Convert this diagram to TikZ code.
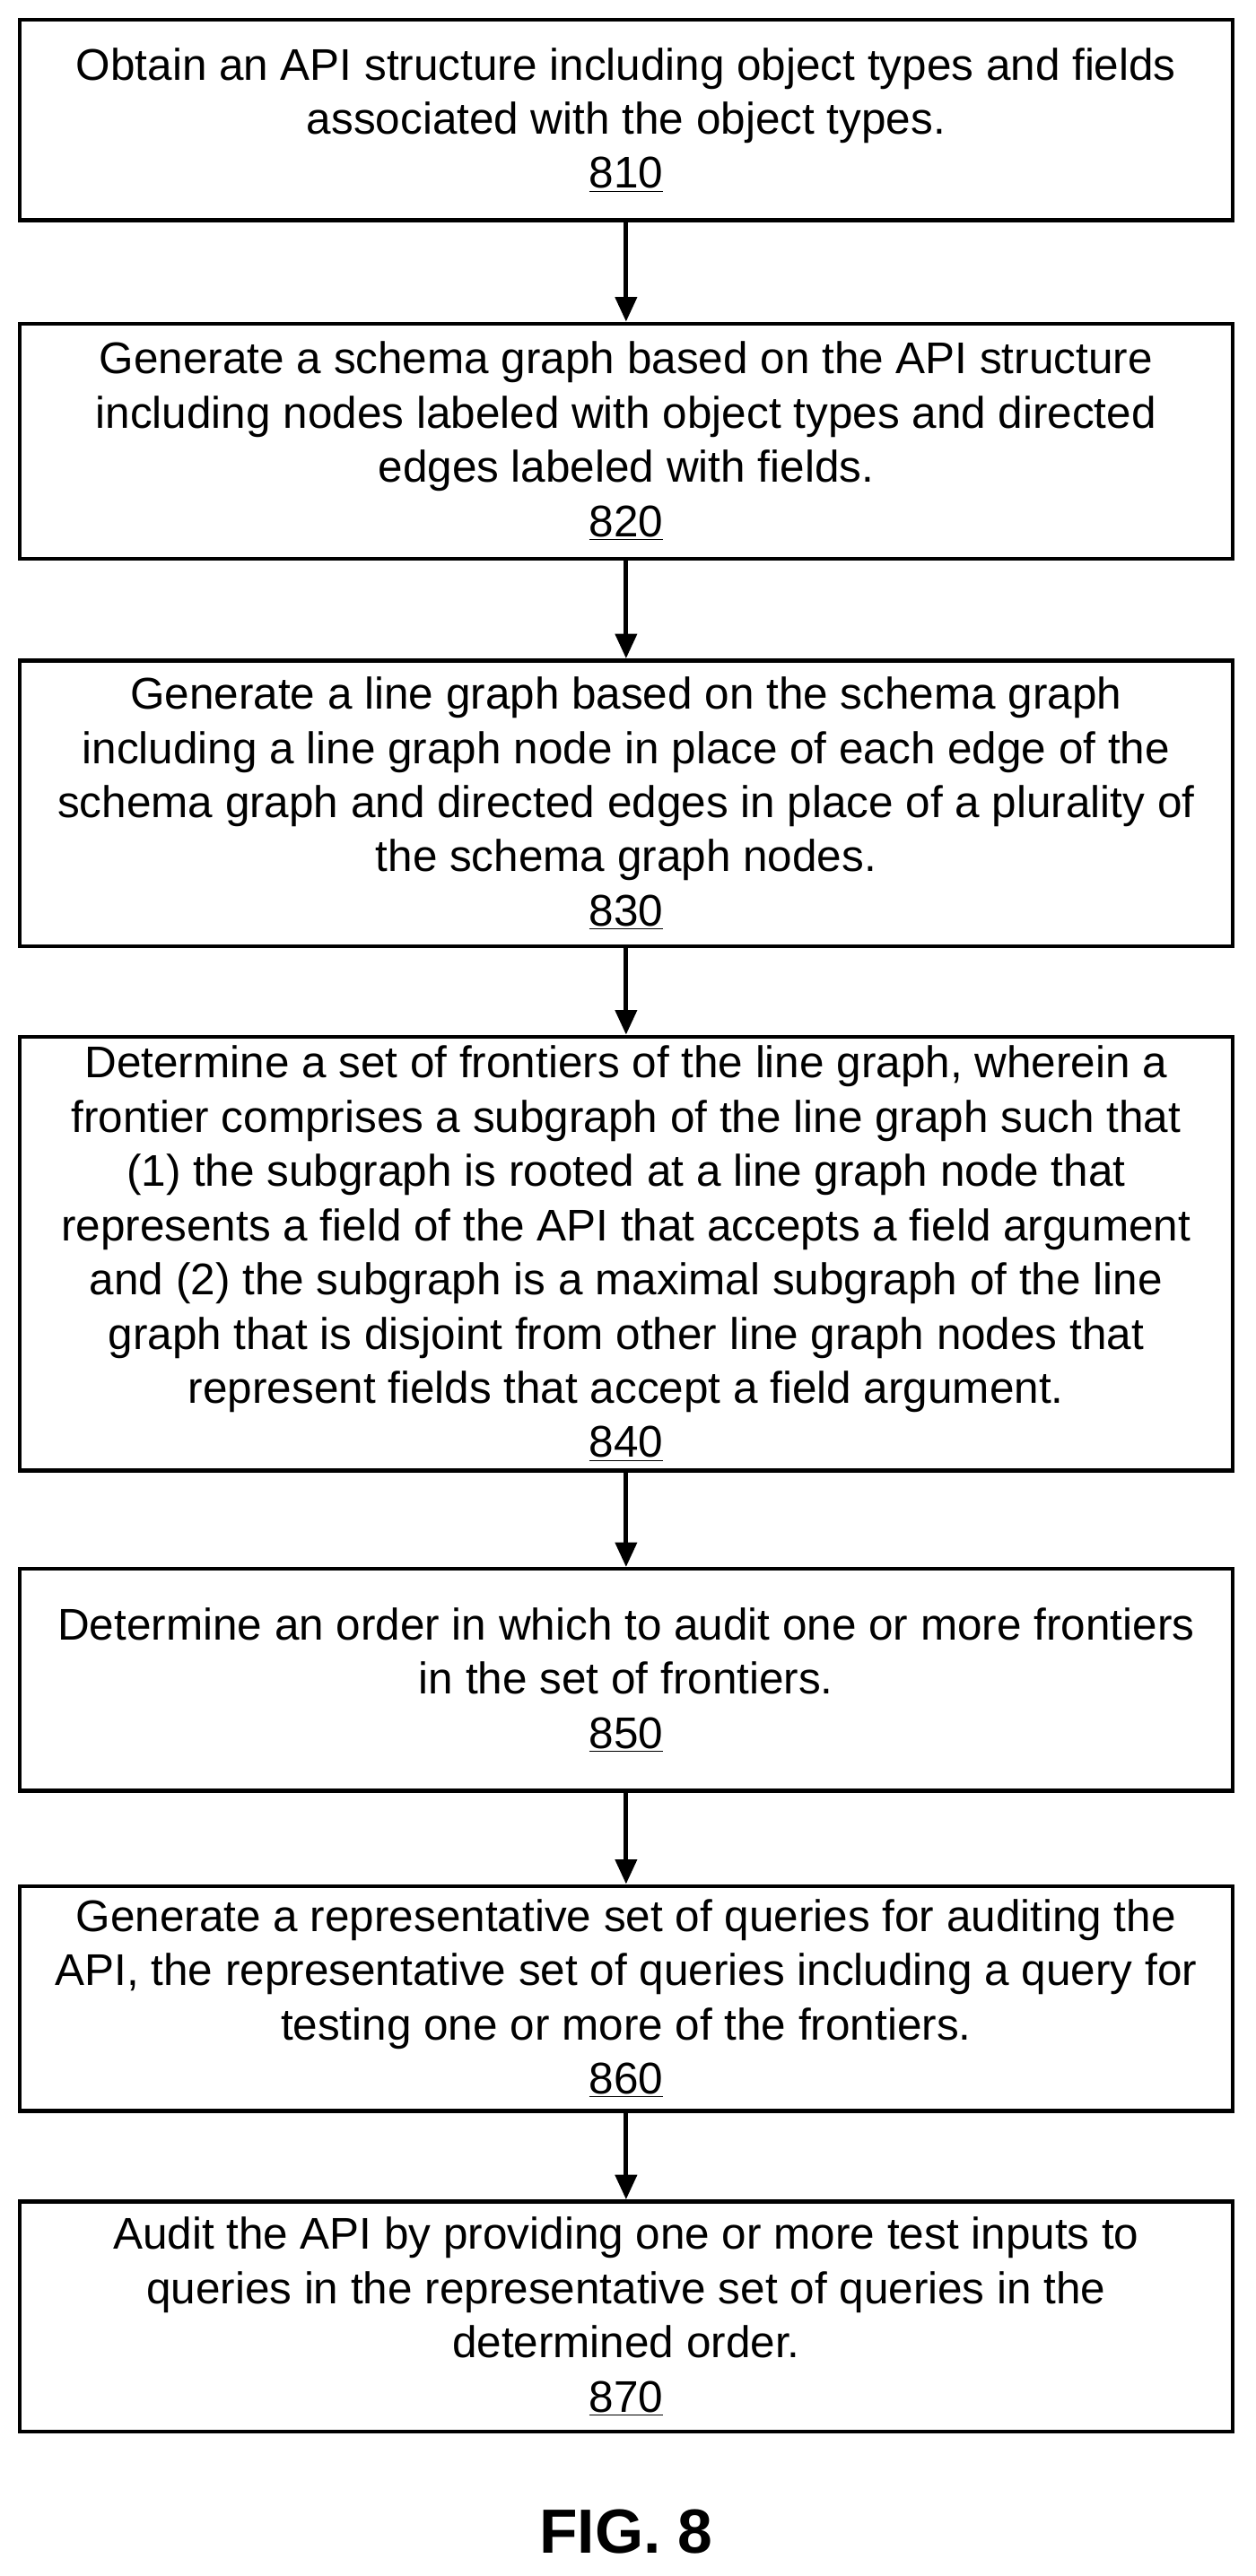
\documentclass[tikz,border=0pt]{standalone}
\usepackage{fontspec}
\setmainfont{Liberation Sans}
\usetikzlibrary{arrows.meta}
\begin{document}
\begin{tikzpicture}[x=1pt,y=-1pt,
  stepbox/.style={draw,line width=2.4pt,minimum width=738pt,align=center,inner sep=0pt,font=\fontsize{27}{33}\selectfont},
  arr/.style={line width=2.6pt,-{Triangle[length=15pt,width=13pt]}}]
\useasboundingbox (0,0) rectangle (764,1568);
\node[stepbox,minimum height=122pt] (a) at (381,73) {Obtain an API structure including object types and fields\\associated with the object types.\\\underline{810}};
\node[stepbox,minimum height=143pt] (b) at (381,268.5) {Generate a schema graph based on the API structure\\including nodes labeled with object types and directed\\edges labeled with fields.\\\underline{820}};
\node[stepbox,minimum height=174pt] (c) at (381,489) {Generate a line graph based on the schema graph\\including a line graph node in place of each edge of the\\schema graph and directed edges in place of a plurality of\\the schema graph nodes.\\\underline{830}};
\node[stepbox,minimum height=264pt] (d) at (381,763) {Determine a set of frontiers of the line graph, wherein a\\frontier comprises a subgraph of the line graph such that\\(1) the subgraph is rooted at a line graph node that\\represents a field of the API that accepts a field argument\\and (2) the subgraph is a maximal subgraph of the line\\graph that is disjoint from other line graph nodes that\\represent fields that accept a field argument.\\\underline{840}};
\node[stepbox,minimum height=135pt] (e) at (381,1022.5) {Determine an order in which to audit one or more frontiers\\in the set of frontiers.\\\underline{850}};
\node[stepbox,minimum height=137pt] (f) at (381,1216.5) {Generate a representative set of queries for auditing the\\API, the representative set of queries including a query for\\testing one or more of the frontiers.\\\underline{860}};
\node[stepbox,minimum height=140pt] (g) at (381,1410) {Audit the API by providing one or more test inputs to\\queries in the representative set of queries in the\\determined order.\\\underline{870}};
\node[font=\fontsize{38}{42}\selectfont\bfseries] (fig) at (381,1541) {FIG. 8};
\draw[arr] (a) -- (b);
\draw[arr] (b) -- (c);
\draw[arr] (c) -- (d);
\draw[arr] (d) -- (e);
\draw[arr] (e) -- (f);
\draw[arr] (f) -- (g);
\end{tikzpicture}
\end{document}
